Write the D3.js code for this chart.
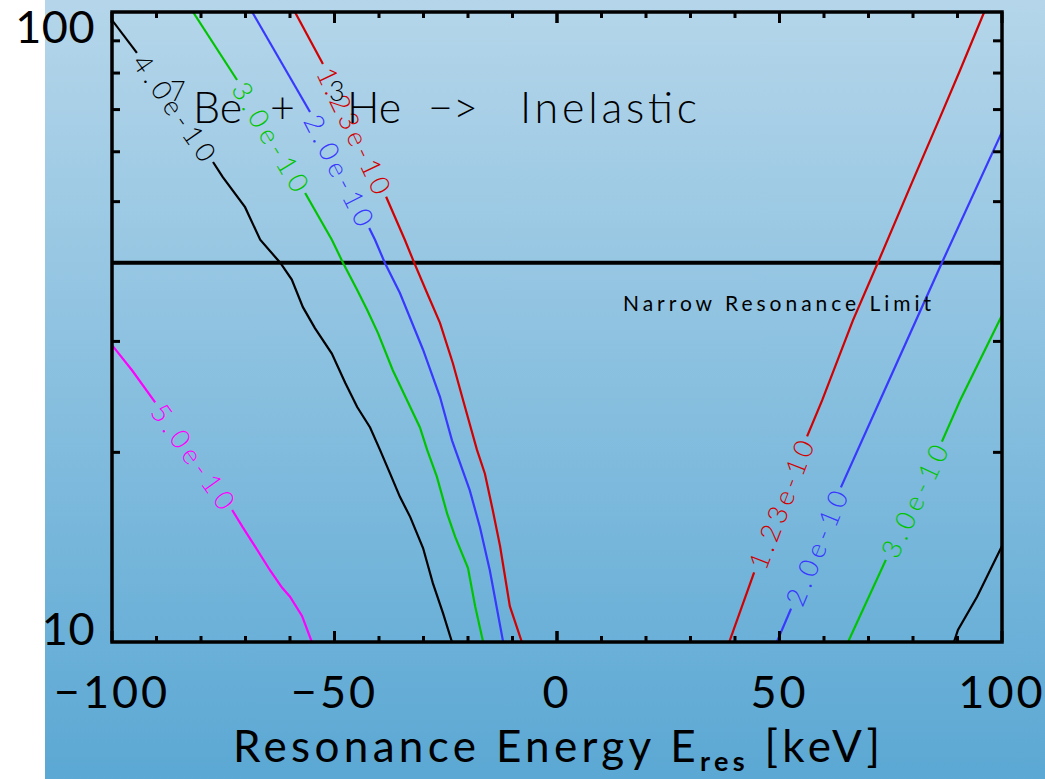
<!DOCTYPE html>
<html>
<head>
<meta charset="utf-8">
<script src="https://cdn.jsdelivr.net/npm/d3@7"></script>
<style>
  body { margin: 0; background: #fff; }
  text { font-family: Lato, "DejaVu Sans", sans-serif; fill: #000; }
</style>
</head>
<body>
<script>
// axis ticks
var xMajorTicks = [-100, -50, 0, 50, 100];
var xMinorTicks = d3.range(-90, 100, 10);
var yMajorTicks = [10, 100];
var yMinorTicks = [20, 30, 40, 50, 60, 70, 80, 90];
var narrowLimit = 40;

// contour levels (each line: two pieces, label sits in the gap between them)
var levelLeft4 = "4.0e-10";
var lineLeft4 = [
  [[-100, 97.1], [-94.4, 86.1]],
  [[-77.3, 57.8], [-75.1, 54.7], [-70.1, 49.0], [-66.7, 43.5], [-62.2, 40.0], [-59.6, 37.6],
   [-57.1, 34.0], [-54.4, 31.5], [-50.6, 28.7], [-47.6, 25.8], [-44.9, 23.6], [-42.0, 21.9],
   [-39.8, 20.2], [-37.5, 18.5], [-35.3, 17.0], [-33.0, 15.8], [-30.1, 14.1], [-27.9, 12.4],
   [-25.6, 11.1], [-23.6, 10.0]]
];
var levelLeft3 = "3.0e-10";
var lineLeft3 = [
  [[-81.8, 100], [-71.9, 78.0]],
  [[-56.6, 51.6], [-50.6, 43.5], [-48.1, 40.0], [-44.9, 36.2], [-42.7, 33.7], [-40.2, 30.9],
   [-36.9, 27.0], [-33.7, 24.2], [-30.8, 21.9], [-29.2, 20.2], [-27.0, 18.3], [-24.7, 16.0],
   [-22.9, 14.7], [-20.0, 13.1], [-18.4, 11.4], [-16.6, 10.0]]
];
var levelLeft2 = "2.0e-10";
var lineLeft2 = [
  [[-68.5, 100], [-55.5, 69.4]],
  [[-42.2, 45.4], [-40.9, 43.5], [-38.7, 40.0], [-35.3, 35.8], [-30.1, 29.1], [-26.3, 24.5],
   [-23.6, 20.9], [-19.6, 17.4], [-17.3, 15.2], [-15.1, 13.0], [-12.1, 10.0]]
];
var levelLeft123 = "1.23e-10";
var lineLeft123 = [
  [[-58.9, 100], [-52.6, 82.7]],
  [[-38.4, 50.9], [-34.2, 43.5], [-32.1, 40.0], [-29.2, 35.8], [-26.3, 32.1], [-23.4, 27.7],
   [-21.1, 24.2], [-18.0, 20.2], [-16.2, 18.5], [-14.6, 16.4], [-12.8, 14.2], [-10.6, 11.4],
   [-7.9, 10.0]]
];
var levelLeft5 = "5.0e-10";
var lineLeft5 = [
  [[-100, 29.6], [-95.5, 27.0], [-90.3, 24.0]],
  [[-73.0, 16.2], [-70.6, 15.2], [-67.9, 14.2], [-64.5, 13.0], [-61.8, 12.2], [-60.0, 11.8],
   [-57.3, 11.0], [-55.1, 10.0]]
];
var levelRight123 = "1.23e-10";
var lineRight123 = [
  [[38.7, 10.0], [44.3, 12.9]],
  [[56.2, 21.2], [59.6, 24.2], [66.5, 32.4], [72.1, 40.0], [80.0, 54.1], [86.1, 68.1],
   [90.6, 80.9], [96.0, 100]]
];
var levelRight2 = "2.0e-10";
var lineRight2 = [
  [[49.4, 10.0], [52.6, 11.3]],
  [[63.8, 17.6], [72.6, 24.2], [86.5, 40.0], [100, 64.5]]
];
var levelRight3 = "3.0e-10";
var lineRight3 = [
  [[65.4, 10.0], [73.9, 13.5]],
  [[86.5, 20.8], [90.6, 24.2], [100, 33.0]]
];
var levelRight4 = "4.0e-10";
var lineRight4 = [
  [[89.2, 10.0], [90.1, 10.45], [94.4, 11.8], [100, 14.2]]
];

var width = 1045;
var height = 779;
var margin = { left: 112, right: 43, top: 12, bottom: 137 };

var x = d3.scaleLinear().domain([-100, 100]).range([margin.left, width - margin.right]);
var y = d3.scaleLog().domain([10, 100]).range([height - margin.bottom, margin.top]);

var svg = d3.select("body").append("svg")
  .attr("width", width)
  .attr("height", height);

// background gradient
var grad = svg.append("defs").append("linearGradient")
  .attr("id", "bg").attr("x1", 0).attr("y1", 0).attr("x2", 0).attr("y2", 1);
grad.append("stop").attr("offset", "0%").attr("stop-color", "#b5d6ea");
grad.append("stop").attr("offset", "100%").attr("stop-color", "#5ba8d4");
svg.append("rect").attr("x", 45).attr("y", 0)
  .attr("width", width - 45).attr("height", height)
  .attr("fill", "url(#bg)");

svg.select("defs").append("clipPath").attr("id", "plotclip")
  .append("rect")
  .attr("x", x(-100)).attr("y", y(100))
  .attr("width", x(100) - x(-100)).attr("height", y(10) - y(100));

var line = d3.line()
  .x(function (d) { return x(d[0]); })
  .y(function (d) { return y(d[1]); });

var contours = [
  { level: levelLeft4, pieces: lineLeft4, color: "#000000" },
  { level: levelLeft3, pieces: lineLeft3, color: "#00c400" },
  { level: levelLeft2, pieces: lineLeft2, color: "#3838ff" },
  { level: levelLeft123, pieces: lineLeft123, color: "#d20000" },
  { level: levelLeft5, pieces: lineLeft5, color: "#ff00ff" },
  { level: levelRight123, pieces: lineRight123, color: "#d20000" },
  { level: levelRight2, pieces: lineRight2, color: "#3838ff" },
  { level: levelRight3, pieces: lineRight3, color: "#00c400" },
  { level: levelRight4, pieces: lineRight4, color: "#000000" }
];

var plot = svg.append("g").attr("clip-path", "url(#plotclip)");

// narrow resonance limit
plot.append("line")
  .attr("x1", x(-100)).attr("x2", x(100))
  .attr("y1", y(narrowLimit)).attr("y2", y(narrowLimit))
  .attr("stroke", "#000").attr("stroke-width", 4);

contours.forEach(function (c) {
  c.pieces.forEach(function (p) {
    plot.append("path")
      .attr("d", line(p))
      .attr("fill", "none")
      .attr("stroke", c.color)
      .attr("stroke-width", 2.2);
  });
  if (c.pieces.length > 1) {
    var a = c.pieces[0][c.pieces[0].length - 1];
    var b = c.pieces[1][0];
    var ax = x(a[0]), ay = y(a[1]), bx = x(b[0]), by = y(b[1]);
    var ang = Math.atan2(by - ay, bx - ax) * 180 / Math.PI;
    var len = Math.sqrt((bx - ax) * (bx - ax) + (by - ay) * (by - ay));
    svg.append("text")
      .attr("transform", "translate(" + ((ax + bx) / 2) + "," + ((ay + by) / 2) + ") rotate(" + ang + ")")
      .attr("text-anchor", "middle")
      .attr("dominant-baseline", "central")
      .attr("textLength", len * 0.93)
      .attr("lengthAdjust", "spacing")
      .style("font-size", "27px")
      .style("font-weight", 300)
      .style("fill", c.color)
      .text(c.level);
  }
});

// frame
svg.append("rect")
  .attr("x", x(-100)).attr("y", y(100))
  .attr("width", x(100) - x(-100)).attr("height", y(10) - y(100))
  .attr("fill", "none").attr("stroke", "#000").attr("stroke-width", 3.5);

// x ticks, bottom and top, pointing inward
var ticks = svg.append("g").attr("stroke", "#000").attr("stroke-width", 3);
xMinorTicks.concat(xMajorTicks).forEach(function (t) {
  var len = xMajorTicks.indexOf(t) >= 0 ? 11 : 6;
  ticks.append("line").attr("x1", x(t)).attr("x2", x(t))
    .attr("y1", y(10)).attr("y2", y(10) - len);
  ticks.append("line").attr("x1", x(t)).attr("x2", x(t))
    .attr("y1", y(100)).attr("y2", y(100) + len);
});
yMinorTicks.forEach(function (t) {
  ticks.append("line").attr("x1", x(-100)).attr("x2", x(-100) + 8)
    .attr("y1", y(t)).attr("y2", y(t));
  ticks.append("line").attr("x1", x(100)).attr("x2", x(100) - 9)
    .attr("y1", y(t)).attr("y2", y(t));
});

// tick labels
svg.selectAll(".xlab").data(xMajorTicks).enter().append("text")
  .attr("x", function (d) { return x(d); })
  .attr("y", 708)
  .attr("text-anchor", "middle")
  .style("font-size", "45px")
  .style("letter-spacing", "3px")
  .text(function (d) { return d < 0 ? "\u2212" + Math.abs(d) : d; });

svg.selectAll(".ylab").data(yMajorTicks).enter().append("text")
  .attr("x", 95)
  .attr("y", function (d) { return y(d) + (d === 100 ? 31 : 3); })
  .attr("text-anchor", "end")
  .style("font-size", "45px")
  .style("letter-spacing", "0.5px")
  .text(function (d) { return d; });

// x axis title
var xt = svg.append("text")
  .attr("x", 233).attr("y", 762)
  .attr("textLength", 647)
  .attr("lengthAdjust", "spacing")
  .style("font-size", "44px");
xt.append("tspan").text("Resonance Energy E");
xt.append("tspan").attr("dy", 9).style("font-size", "27px").style("font-weight", "bold").text("res");
xt.append("tspan").attr("dy", -9).text(" [keV]");

// reaction label
var tt = svg.append("g").style("font-weight", 300);
tt.append("text").attr("x", 170).attr("y", 101).style("font-size", "27px").text("7");
tt.append("text").attr("x", 193).attr("y", 123).style("font-size", "43px").text("Be");
tt.append("text").attr("x", 270).attr("y", 123).style("font-size", "43px").text("+");
tt.append("text").attr("x", 329).attr("y", 101).style("font-size", "27px").text("3");
tt.append("text").attr("x", 347).attr("y", 123).style("font-size", "43px").text("He");
tt.append("text").attr("x", 428).attr("y", 123).style("font-size", "43px").text("\u2212>");
tt.append("text").attr("x", 520).attr("y", 123).attr("textLength", 177)
  .attr("lengthAdjust", "spacing").style("font-size", "43px").text("Inelastic");

svg.append("text")
  .attr("x", 623).attr("y", 311)
  .attr("textLength", 308)
  .attr("lengthAdjust", "spacing")
  .style("font-size", "21px")
  .text("Narrow  Resonance  Limit");
</script>
</body>
</html>
